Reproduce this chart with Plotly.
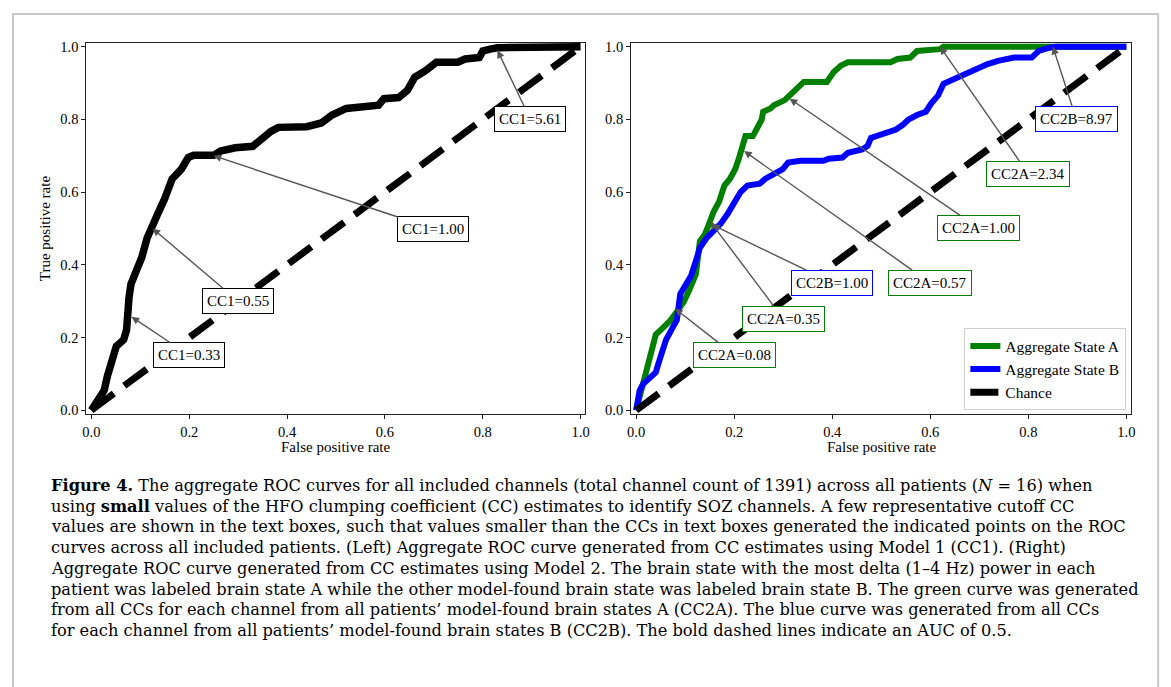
import plotly.graph_objects as go

W, H = 1171, 687
FONT = "Liberation Serif"
CAP_FONT = "DejaVu Serif"
OFF = 8  # page body margin offset


def px(x):
    return (x - OFF) / W


def py(y):
    return 1 - (y - OFF) / H


# ---------------- data ----------------
cc1_fpr = [0, 0.026, 0.033, 0.04, 0.051, 0.066, 0.072, 0.077, 0.081, 0.092, 0.103, 0.114, 0.125,
           0.136, 0.150, 0.165, 0.184, 0.198, 0.209, 0.25, 0.264, 0.294, 0.33, 0.345, 0.367, 0.382,
           0.44, 0.47, 0.492, 0.521, 0.587, 0.598, 0.628, 0.646, 0.661, 0.683, 0.698, 0.705, 0.749,
           0.764, 0.793, 0.80, 0.815, 0.83, 1.0]
cc1_tpr = [0, 0.054, 0.095, 0.126, 0.176, 0.194, 0.221, 0.311, 0.347, 0.384, 0.42, 0.474, 0.514,
           0.541, 0.582, 0.636, 0.663, 0.695, 0.701, 0.701, 0.713, 0.722, 0.726, 0.744, 0.767, 0.778,
           0.78, 0.79, 0.812, 0.83, 0.839, 0.857, 0.86, 0.88, 0.916, 0.934, 0.948, 0.957, 0.957,
           0.966, 0.97, 0.988, 0.993, 0.997, 1.0]

a_fpr = [0, 0.014, 0.025, 0.04, 0.054, 0.068, 0.083, 0.097, 0.108, 0.122, 0.13, 0.14, 0.148, 0.158,
         0.169, 0.18, 0.191, 0.202, 0.209, 0.22, 0.223, 0.238, 0.245, 0.256, 0.259, 0.274, 0.281,
         0.303, 0.317, 0.331, 0.342, 0.389, 0.403, 0.418, 0.432, 0.519, 0.533, 0.559, 0.573, 0.62,
         0.627, 1.0]
a_tpr = [0, 0.077, 0.122, 0.208, 0.226, 0.244, 0.271, 0.298, 0.329, 0.375, 0.465, 0.483, 0.51, 0.546,
         0.573, 0.618, 0.636, 0.663, 0.69, 0.736, 0.754, 0.754, 0.772, 0.799, 0.821, 0.83, 0.839,
         0.853, 0.871, 0.889, 0.903, 0.903, 0.93, 0.948, 0.957, 0.957, 0.966, 0.97, 0.988, 0.993,
         1.0, 1.0]

b_fpr = [0, 0.007, 0.014, 0.029, 0.04, 0.047, 0.054, 0.061, 0.072, 0.083, 0.09, 0.101, 0.112, 0.122,
         0.13, 0.144, 0.158, 0.173, 0.187, 0.202, 0.213, 0.227, 0.252, 0.263, 0.281, 0.299, 0.31,
         0.335, 0.382, 0.393, 0.421, 0.432, 0.461, 0.472, 0.479, 0.512, 0.53, 0.544, 0.555, 0.573,
         0.591, 0.602, 0.616, 0.627, 0.648, 0.67, 0.695, 0.717, 0.738, 0.771, 0.807, 0.821, 0.843,
         0.857, 1.0]
b_tpr = [0, 0.054, 0.072, 0.09, 0.104, 0.135, 0.167, 0.194, 0.221, 0.248, 0.32, 0.347, 0.37, 0.411,
         0.447, 0.474, 0.492, 0.514, 0.541, 0.573, 0.60, 0.618, 0.623, 0.636, 0.65, 0.663, 0.681,
         0.686, 0.686, 0.692, 0.695, 0.708, 0.717, 0.727, 0.749, 0.762, 0.772, 0.785, 0.799, 0.812,
         0.821, 0.844, 0.866, 0.898, 0.911, 0.925, 0.939, 0.952, 0.961, 0.97, 0.97, 0.988, 0.997,
         1.0, 1.0]

chance = [0, 1]

# annotations: label, point (x, y), text centre (x, y), colour
left_labels = ["CC1=5.61", "CC1=1.00", "CC1=0.55", "CC1=0.33"]
left_points = [(0.83, 0.99), (0.25, 0.70), (0.125, 0.50), (0.082, 0.257)]
left_boxes = [(0.897, 0.801), (0.699, 0.499), (0.299, 0.301), (0.199, 0.152)]

right_labels = ["CC2B=8.97", "CC2A=2.34", "CC2A=1.00", "CC2A=0.57", "CC2B=1.00", "CC2A=0.35", "CC2A=0.08"]
right_points = [(0.85, 1.0), (0.62, 1.0), (0.313, 0.857), (0.22, 0.713), (0.155, 0.51), (0.151, 0.519), (0.079, 0.28)]
right_boxes = [(0.898, 0.80), (0.80, 0.65), (0.699, 0.501), (0.599, 0.351), (0.40, 0.351), (0.30, 0.252), (0.201, 0.151)]
right_colors = ["blue", "green", "green", "green", "blue", "green", "green"]

caption = [
    "<b>Figure 4.</b> The aggregate ROC curves for all included channels (total channel count of 1391) across all patients (<i>N</i> = 16) when",
    "using <b>small</b> values of the HFO clumping coefficient (CC) estimates to identify SOZ channels. A few representative cutoff CC",
    "values are shown in the text boxes, such that values smaller than the CCs in text boxes generated the indicated points on the ROC",
    "curves across all included patients. (Left) Aggregate ROC curve generated from CC estimates using Model 1 (CC1). (Right)",
    "Aggregate ROC curve generated from CC estimates using Model 2. The brain state with the most delta (1–4 Hz) power in each",
    "patient was labeled brain state A while the other model-found brain state was labeled brain state B. The green curve was generated",
    "from all CCs for each channel from all patients’ model-found brain states A (CC2A). The blue curve was generated from all CCs",
    "for each channel from all patients’ model-found brain states B (CC2B). The bold dashed lines indicate an AUC of 0.5.",
]

# ---------------- figure ----------------
fig = go.Figure()

fig.add_trace(go.Scatter(x=cc1_fpr, y=cc1_tpr, mode="lines", line=dict(color="black", width=7.5),
                         xaxis="x", yaxis="y", showlegend=False))
fig.add_trace(go.Scatter(x=chance, y=chance, mode="lines",
                         line=dict(color="black", width=7, dash="28px,13px"),
                         xaxis="x", yaxis="y", showlegend=False))

fig.add_trace(go.Scatter(x=a_fpr, y=a_tpr, mode="lines", line=dict(color="green", width=6),
                         name="Aggregate State A", xaxis="x2", yaxis="y2"))
fig.add_trace(go.Scatter(x=b_fpr, y=b_tpr, mode="lines", line=dict(color="blue", width=6),
                         name="Aggregate State B", xaxis="x2", yaxis="y2"))
fig.add_trace(go.Scatter(x=chance, y=chance, mode="lines",
                         line=dict(color="black", width=7, dash="28px,13px"),
                         name="Chance", xaxis="x2", yaxis="y2"))

annotations = []


def box_ann(label, pt, box, color, xr, yr):
    return dict(text=label, x=pt[0], y=pt[1], ax=box[0], ay=box[1], xref=xr, yref=yr,
                axref=xr, ayref=yr, showarrow=True, arrowhead=2, arrowsize=1.1, arrowwidth=1.4,
                arrowcolor="#555555", standoff=0, bgcolor="white", bordercolor=color,
                borderwidth=1, borderpad=4, font=dict(family=FONT, size=15, color="black"))


for lab, pt, bx in zip(left_labels, left_points, left_boxes):
    annotations.append(box_ann(lab, pt, bx, "black", "x", "y"))
for lab, pt, bx, c in zip(right_labels, right_points, right_boxes, right_colors):
    annotations.append(box_ann(lab, pt, bx, c, "x2", "y2"))

# axis titles
title_font = dict(family=FONT, size=15, color="black")
annotations.append(dict(text="False positive rate", x=px(334), y=py(448), xref="paper", yref="paper",
                        xanchor="center", yanchor="middle", showarrow=False, font=title_font))
annotations.append(dict(text="False positive rate", x=px(884), y=py(448), xref="paper", yref="paper",
                        xanchor="center", yanchor="middle", showarrow=False, font=title_font))
annotations.append(dict(text="True positive rate", x=px(42), y=py(227), xref="paper", yref="paper",
                        xanchor="center", yanchor="middle", showarrow=False, textangle=-90, font=title_font))

# caption
for i, line in enumerate(caption):
    annotations.append(dict(text=line, x=px(46), y=py(487 + i * 21.0), xref="paper", yref="paper",
                            xanchor="left", yanchor="middle", showarrow=False, borderpad=0,
                            font=dict(family=CAP_FONT, size=16.2, color="black")))

axis_common = dict(showline=True, linecolor="#222222", linewidth=1.2, mirror=True, ticks="outside",
                   ticklen=4, tickcolor="#222222", tickvals=[0, 0.2, 0.4, 0.6, 0.8, 1.0], tickformat=".1f",
                   showgrid=False, zeroline=False, tickfont=dict(family=FONT, size=14.5, color="black"))

fig.update_layout(
    width=W, height=H, margin=dict(l=0, r=0, t=0, b=0),
    paper_bgcolor="white", plot_bgcolor="white",
    xaxis=dict(domain=[px(83), px(585)], range=[-0.0101, 1.0081], anchor="y", **axis_common),
    yaxis=dict(domain=[py(415), py(39)], range=[-0.011, 1.011], anchor="x", **axis_common),
    xaxis2=dict(domain=[px(632), px(1136)], range=[-0.0101, 1.0101], anchor="y2", **axis_common),
    yaxis2=dict(domain=[py(415), py(39)], range=[-0.011, 1.011], anchor="x2", **axis_common),
    legend=dict(x=px(1131), y=py(411), xanchor="right", yanchor="bottom", bgcolor="white",
                bordercolor="#d0d0d0", borderwidth=1, font=dict(family=FONT, size=15.5, color="black"),
                tracegroupgap=0),
    annotations=annotations,
    shapes=[dict(type="path", xref="paper", yref="paper",
                 path=f"M {px(9)},-0.05 L {px(9)},{py(10)} L {px(1163)},{py(10)} L {px(1163)},-0.05",
                 line=dict(color="#c8c8c8", width=2))],
)

fig.write_html("out.html")
